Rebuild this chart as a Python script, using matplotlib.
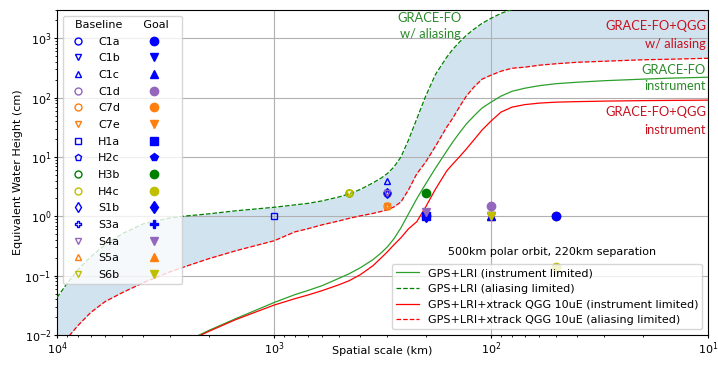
import matplotlib
matplotlib.use("Agg")
import matplotlib.pyplot as plt
from matplotlib.lines import Line2D

# ---- curve data (spatial scale km, EWH cm) ----
scale_km = [10000, 9000, 8000, 7000, 6000, 5000, 4000, 3000, 2500, 2000, 1500, 1000,
            800, 700, 600, 500, 450, 400, 350, 320, 300, 280, 260, 240, 220, 200,
            180, 160, 150, 140, 130, 120, 110, 100, 90, 80, 70, 60, 50, 40, 30, 20, 15, 10]

grace_alias = [0.0427, 0.0734, 0.126, 0.208, 0.332, 0.508, 0.748, 0.944, 1.02, 1.10, 1.24, 1.42,
               1.56, 1.65, 1.82, 2.13, 2.39, 2.84, 3.66, 4.44, 5.28, 6.79, 10.0, 19.3, 43.5, 106,
               248, 480, 653, 857, 1122, 1416, 1786, 2168, 2630, 3070, 3600, 4100, 4600, 5000,
               5400, 5800, 6000, 6200]

qgg_alias = [0.00528, 0.00873, 0.0145, 0.0239, 0.0366, 0.0518, 0.0762, 0.117, 0.147, 0.193, 0.263, 0.387,
             0.548, 0.616, 0.719, 0.840, 0.925, 1.02, 1.12, 1.21, 1.29, 1.44, 1.75, 2.79, 5.18, 8.24,
             15.3, 31.9, 45.2, 69.2, 106, 150, 205, 239, 279, 313, 326, 352, 373, 395,
             411, 435, 444, 461]

inst_km = scale_km[8:]
grace_inst = [0.00809, 0.0119, 0.0189, 0.0352, 0.048, 0.056, 0.0679, 0.0908, 0.108, 0.136,
              0.186, 0.244, 0.307, 0.419, 0.641, 1.10, 1.97, 3.52, 6.53, 12.6,
              17.9, 25.3, 35.9, 48.9, 66.7, 84.0, 106, 128, 144, 159,
              172, 182, 193, 205, 213, 221]
qgg_inst = [0.00778, 0.0115, 0.0182, 0.0319, 0.041, 0.047, 0.056, 0.0706, 0.0824, 0.104,
            0.147, 0.201, 0.253, 0.332, 0.436, 0.616, 0.809, 1.44, 2.90, 5.82,
            7.62, 10.0, 13.6, 19.3, 28.4, 40.3, 57.0, 69.2, 76.2, 80.9,
            84.0, 85.7, 87.4, 89.1, 89.8, 90.8]

# ---- mission markers ----
names = ["C1a", "C1b", "C1c", "C1d", "C7d", "C7e", "H1a", "H2c", "H3b", "H4c",
         "S1b", "S3a", "S4a", "S5a", "S6b"]
base_scale = [300, 300, 300, 300, 300, 300, 1000, 300, 450, 450, 300, 300, 300, 300, 450]
base_ewh = [2.5, 2.5, 4.0, 2.5, 1.5, 1.5, 1.0, 2.5, 2.5, 2.5, 2.5, 2.5, 2.5, 1.5, 2.5]
goal_scale = [50, 100, 100, 100, 50, 100, 200, 200, 200, 50, 200, 200, 200, 100, 100]
goal_ewh = [1.0, 1.0, 1.0, 1.5, 1.0, 1.0, 1.0, 1.0, 2.5, 0.14, 1.0, 1.0, 1.2, 1.0, 1.0]
colors = ["b", "b", "b", "tab:purple", "tab:orange", "tab:orange", "b", "b", "g", "y",
          "b", "b", "tab:purple", "tab:orange", "y"]
markers = ["o", "v", "^", "o", "o", "v", "s", "p", "o", "o", "d", "P", "v", "^", "v"]
goal_z = [4.2, 4, 4.1, 4, 3.5, 4, 4, 4, 4, 4, 4, 4, 4, 3.5, 4.2]

fig = plt.figure(figsize=(7.18, 3.66), dpi=100)
ax = fig.add_axes([57/718, 1-335/366, (708-57)/718, (335-10)/366])

ax.fill_between(scale_km, qgg_alias, grace_alias, color="tab:blue", alpha=0.2, lw=0, zorder=1)

l1, = ax.plot(inst_km, grace_inst, color="tab:green", lw=0.9, zorder=3)
l2, = ax.plot(scale_km, grace_alias, color="g", lw=0.9, ls="--", zorder=3)
l3, = ax.plot(inst_km, qgg_inst, color="r", lw=0.9, zorder=3)
l4, = ax.plot(scale_km, qgg_alias, color="r", lw=0.9, ls="--", zorder=3)

base_handles = []
goal_handles = []
for i, n in enumerate(names):
    ax.plot(base_scale[i], base_ewh[i], marker=markers[i], ls="none", mfc="none",
            mec=colors[i], ms=5, mew=1.0, zorder=4)
    ax.plot(goal_scale[i], goal_ewh[i], marker=markers[i], ls="none",
            color=colors[i], ms=6, zorder=goal_z[i])
    base_handles.append(Line2D([], [], marker=markers[i], ls="none", mfc="none",
                               mec=colors[i], ms=5, mew=1.0))
    goal_handles.append(Line2D([], [], marker=markers[i], ls="none", color=colors[i], ms=6))

ax.set_xscale("log")
ax.set_yscale("log")
ax.set_xlim(10000, 10)
ax.set_ylim(0.01, 3000)
ax.grid(True, which="major", color="#b0b0b0", lw=0.8)
ax.tick_params(labelsize=8, which="major", length=2.5, pad=1.5)
ax.tick_params(which="minor", length=1.5)
ax.set_xlabel("Spatial scale (km)", fontsize=8)
ax.xaxis.set_label_coords(0.5, -(346-335)/325)
ax.set_ylabel("Equivalent Water Height (cm)", fontsize=8)
ax.yaxis.set_label_coords(-(57-23)/651, 0.5)

leg1 = ax.legend(base_handles + goal_handles, names + [" "] * len(names), ncol=2,
                 loc="upper left", fontsize=8, title="Baseline      Goal",
                 title_fontsize=8, handlelength=2.0, columnspacing=2.0, labelspacing=0.6)
leg1.set_zorder(10)
ax.add_artist(leg1)

leg2 = ax.legend([l1, l2, l3, l4],
                 ["GPS+LRI (instrument limited)", "GPS+LRI (aliasing limited)",
                  "GPS+LRI+xtrack QGG 10uE (instrument limited)",
                  "GPS+LRI+xtrack QGG 10uE (aliasing limited)"],
                 loc="lower right", fontsize=8, handlelength=2.0)
leg2.set_zorder(10)
ax.text((552-57)/651, (335-252)/325, "500km polar orbit, 220km separation",
        transform=ax.transAxes, ha="center", va="center", fontsize=8, zorder=11)

gc = "#2a8a2a"
rc = "#c8101e"
kw = dict(transform=ax.transAxes, va="center", fontsize=9.3, family="Lato",
          linespacing=1.5, zorder=5)
ax.text((430-57)/651, (335-26)/325, "GRACE-FO\nw/ aliasing", ha="center", color=gc, **kw)
ax.text((706-57)/651, (335-35)/325, "GRACE-FO+QGG\nw/ aliasing", ha="right", color=rc, **kw)
ax.text((706-57)/651, (335-78)/325, "GRACE-FO\ninstrument", ha="right", color=gc, **kw)
ax.text((706-57)/651, (335-121)/325, "GRACE-FO+QGG\ninstrument", ha="right", color=rc, **kw)

fig.savefig("out.png", dpi=100)
